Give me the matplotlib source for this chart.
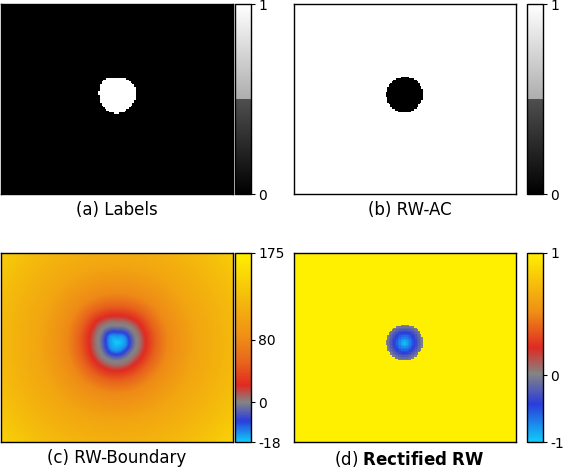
# -*- coding: utf-8 -*-

import numpy as np
import matplotlib
matplotlib.use("Agg")
import matplotlib.pyplot as plt
from matplotlib.colors import LinearSegmentedColormap, FuncNorm
from matplotlib.transforms import offset_copy


## DATA

# panel titles
titles = ["(a) Labels", "(b) RW-AC", "(c) RW-Boundary",
          "(d) $\\mathbf{Rectified\\ RW}$"]

# colorbar ticks of every panel
ticks_a = [0, 1]
ticks_b = [0, 1]
ticks_c = [-18, 0, 80, 175]
ticks_d = [-1, 0, 1]

# where the ticks sit along the colorbar (fraction of its height)
tickpos_c = [0.0, 0.21, 0.54, 1.0]
tickpos_d = [0.0, 0.354, 1.0]

# image size (map pixels) and blob centre
img_w, img_h = 232, 190
centre_a = [116.5, 91.5]
centre_b = [115.5, 91.0]

# blob radius read at angles 0, 45, ..., 315 deg (map pixels)
angles = [0, 45, 90, 135, 180, 225, 270, 315]
radius_a = [18.5, 19.5, 17.8, 20.5, 18.2, 18.5, 17.5, 17.0]
radius_b = [19.0, 19.5, 17.8, 19.0, 19.0, 18.5, 17.5, 18.0]

# boundary map: value read against distance from the blob edge
edge_dist = [-18, -10, -5, 0, 4, 9, 18, 32, 60, 100, 140]
edge_value = [-18, -14, -6, 0, 5, 20, 45, 80, 105, 125, 150]

# colours of the diverging map, bottom to top
cmap_c_nodes = [(0.00, "#10ccfa"), (0.11, "#2a3cdc"), (0.21, "#848484"),
                (0.30, "#e02a22"), (0.42, "#e8641c"), (0.56, "#ef8f16"),
                (0.80, "#f6c40a"), (1.00, "#fff000")]
cmap_d_nodes = [(0.00, "#10ccfa"), (0.20, "#2a3cdc"), (0.36, "#848484"),
                (0.50, "#e02a22"), (0.69, "#ef8f16"), (1.00, "#fff000")]


## HELPERS

def blob_radius(theta, radius):
    # periodic lookup of the radius for each angle
    a = np.array(angles + [360])
    r = np.array(radius + [radius[0]])
    return np.interp(theta % 360, a, r)


def signed_distance(centre, radius, nx=150, ny=123):
    xs = (np.arange(nx) + 0.5) * img_w / nx
    ys = (np.arange(ny) + 0.5) * img_h / ny
    X, Y = np.meshgrid(xs, ys)
    dx = X - centre[0]
    dy = centre[1] - Y
    d = np.hypot(dx, dy)
    theta = np.degrees(np.arctan2(dy, dx))
    R = blob_radius(theta, radius)
    return d - R, R


def piecewise_norm(values, fracs):
    fwd = lambda v: np.interp(v, values, fracs)
    inv = lambda f: np.interp(f, fracs, values)
    return FuncNorm((fwd, inv), vmin=values[0], vmax=values[-1])


def add_cbar(fig, im, box, ticks):
    cax = fig.add_axes(box)
    cb = fig.colorbar(im, cax=cax, ticks=ticks)
    cb.ax.tick_params(labelsize=10, length=3, width=0.8, pad=2)
    cb.ax.set_yticklabels([str(t) for t in ticks])
    cb.outline.set_linewidth(1.0)
    return cb


def add_title(fig, ax, text, x=0.5):
    # a fixed 7 px gap under the image
    tr = offset_copy(ax.transAxes, fig=fig, x=0, y=-7, units="dots")
    ax.text(x, 0.0, text, transform=tr, ha="center", va="top", fontsize=12)


## FIELDS

sd_a, _ = signed_distance(centre_a, radius_a)
sd_b, R_b = signed_distance(centre_b, radius_b)

labels = (sd_a <= 0).astype(float)
rw_ac = (sd_b > 0).astype(float)
boundary = np.interp(sd_a, edge_dist, edge_value)
rectified = np.where(sd_b > 0, 1.0, np.clip(sd_b / R_b, -1, 0))

# colormaps
gray_seg = {c: [(0.0, 0.0, 0.0), (0.5, 0.31, 0.68), (1.0, 1.0, 1.0)]
            for c in ("red", "green", "blue")}
cmap_gray = LinearSegmentedColormap("gray_split", gray_seg)
cmap_c = LinearSegmentedColormap.from_list("rw_c", cmap_c_nodes)
cmap_d = LinearSegmentedColormap.from_list("rw_d", cmap_d_nodes)

norm_c = piecewise_norm(ticks_c, tickpos_c)
norm_d = piecewise_norm(ticks_d, tickpos_d)


## PLOT

fig = plt.figure(figsize=(5.64, 4.68), dpi=100)

W, H = 564.0, 468.0
row_top = (1 - 194 / H, 190 / H)
row_bot = (1 - 442 / H, 189 / H)
col_l = (1 / W, 232 / W, 235 / W, 0.5)
col_r = (294 / W, 222 / W, 527 / W, 0.52)
cb_w = 16 / W

panels = [
    (labels, cmap_gray, None, (0, 1), ticks_a, col_l, row_top, "nearest"),
    (rw_ac, cmap_gray, None, (0, 1), ticks_b, col_r, row_top, "nearest"),
    (boundary, cmap_c, norm_c, None, ticks_c, col_l, row_bot, "bilinear"),
    (rectified, cmap_d, norm_d, None, ticks_d, col_r, row_bot, "nearest"),
]

for i, (data, cmap, norm, lims, ticks, col, row, interp) in enumerate(panels):
    ax = fig.add_axes([col[0], row[0], col[1], row[1]])
    if norm is None:
        im = ax.imshow(data, cmap=cmap, vmin=lims[0], vmax=lims[1],
                       aspect="auto", interpolation=interp)
    else:
        im = ax.imshow(data, cmap=cmap, norm=norm, aspect="auto",
                       interpolation=interp)
    ax.set_xticks([])
    ax.set_yticks([])
    for s in ax.spines.values():
        s.set_linewidth(1.0)
    add_title(fig, ax, titles[i], x=col[3])
    add_cbar(fig, im, [col[2], row[0], cb_w, row[1]], ticks)

fig.savefig("out.png", dpi=100)
